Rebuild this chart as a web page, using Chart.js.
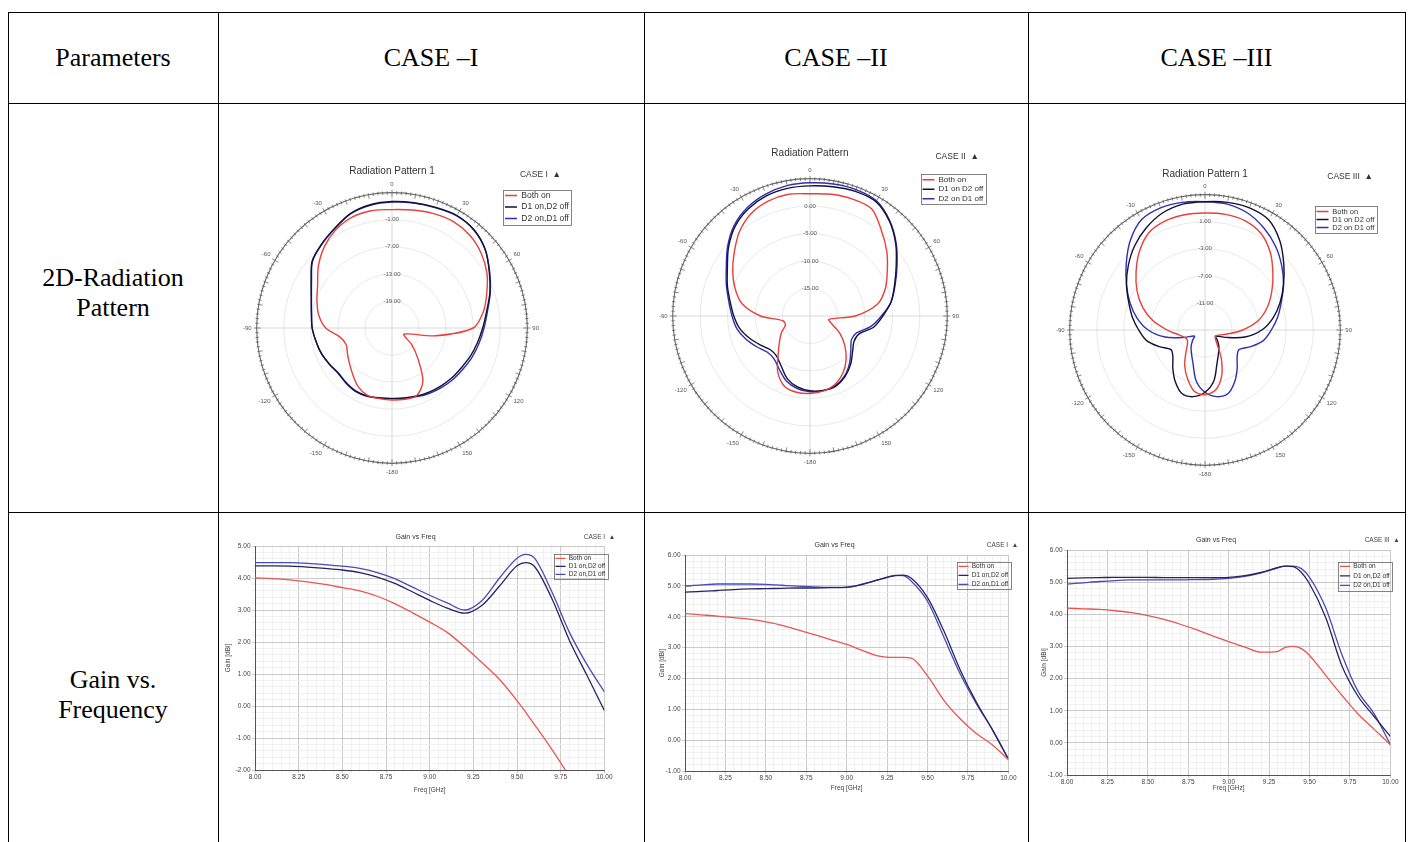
<!DOCTYPE html>
<html><head><meta charset="utf-8"><title>Radiation pattern and gain comparison</title>
<script src="https://cdn.jsdelivr.net/npm/chart.js@4.4.1/dist/chart.umd.min.js"></script>
<style>
html,body{margin:0;padding:0;background:#fff;}
body{width:1413px;height:842px;overflow:hidden;position:relative;font-family:"Liberation Serif","Times New Roman",serif;}
.hl{position:absolute;height:1px;background:#000;}
.vl{position:absolute;width:1px;background:#000;}
.txt{position:absolute;font-size:26px;line-height:30px;color:#000;text-align:center;}
canvas{position:absolute;}
</style></head><body>
<div class="hl" style="left:8px;top:12px;width:1398px"></div>
<div class="hl" style="left:8px;top:103px;width:1398px"></div>
<div class="hl" style="left:8px;top:512px;width:1398px"></div>
<div class="vl" style="left:8px;top:12px;height:830px"></div>
<div class="vl" style="left:218px;top:12px;height:830px"></div>
<div class="vl" style="left:644px;top:12px;height:830px"></div>
<div class="vl" style="left:1028px;top:12px;height:830px"></div>
<div class="vl" style="left:1405px;top:12px;height:830px"></div>
<div class="txt" style="left:8px;top:43px;width:210px">Parameters</div>
<div class="txt" style="left:218px;top:43px;width:426px">CASE –I</div>
<div class="txt" style="left:644px;top:43px;width:384px">CASE –II</div>
<div class="txt" style="left:1028px;top:43px;width:377px">CASE –III</div>
<div class="txt" style="left:8px;top:263px;width:210px">2D-Radiation<br>Pattern</div>
<div class="txt" style="left:8px;top:665px;width:210px">Gain vs.<br>Frequency</div>

<canvas id="p1" width="350" height="324" style="left:235px;top:159px"></canvas>
<canvas id="p2" width="347" height="328" style="left:651px;top:145px"></canvas>
<canvas id="p3" width="344" height="321" style="left:1048px;top:164px"></canvas>
<canvas id="g1" width="392" height="270" style="left:222px;top:528px"></canvas>
<canvas id="g2" width="362" height="260" style="left:656px;top:536px"></canvas>
<canvas id="g3" width="362" height="265" style="left:1038px;top:531px"></canvas>

<script>
// ---------- angle categories (deg) for the polar patterns ----------
const angleLabels = ['0','10','20','30','40','50','60','70','80','90','100','110','120','130','140','150','160','170','-180',
  '-170','-160','-150','-140','-130','-120','-110','-100','-90','-80','-70','-60','-50','-40','-30','-20','-10'];

// ---------- series names ----------
const seriesI = ['Both on', 'D1 on,D2 off', 'D2 on,D1 off'];
const seriesII = ['Both on', 'D1 on D2 off', 'D2 on D1 off'];
const seriesIII = ['Both on', 'D1 on D2 off', 'D2 on D1 off'];
const gainSeries = ['Both on', 'D1 on,D2 off', 'D2 on,D1 off'];

// ---------- radiation pattern values (dB) ----------
const polarI_both = [1.25,1.55,2.0,2.24,1.85,0.8,-0.7,-2.65,-4.45,-7.0,-15.1,-21.2,-22.0,-19.3,-16.0,-11.3,-9.04,-8.95,-9.04,
  -9.1,-9.1,-10.0,-11.5,-12.7,-13.6,-14.2,-13.3,-10.3,-8.5,-7.3,-5.95,-3.7,-1.6,0.05,1.1,1.4];
const polarI_d1 = [3.05,3.2,3.44,3.8,3.35,2.0,-0.1,-1.9,-3.7,-4.9,-5.8,-6.55,-7.3,-7.75,-8.2,-8.6,-8.95,-9.25,-9.35,
  -9.2,-8.9,-8.8,-9.1,-9.4,-8.95,-8.35,-7.9,-7.3,-6.85,-5.95,-4.3,-1.9,-0.7,0.5,2.0,2.75];
const polarI_d2 = [2.9,3.1,3.35,3.7,3.3,2.0,0.0,-1.8,-3.5,-4.6,-5.4,-6.1,-6.8,-7.3,-7.8,-8.3,-8.8,-9.2,-9.4,
  -9.3,-9.0,-8.9,-9.2,-9.5,-9.0,-8.4,-7.9,-7.3,-6.9,-6.0,-4.4,-2.0,-0.8,0.4,1.9,2.6];

const polarII_both = [2.25,2.5,2.65,2.5,0.25,-1.75,-3.75,-5.4,-7.5,-11.75,-16.5,-15.75,-13.75,-11.75,-9.75,-8.0,-6.75,-6.1,-5.9,
  -5.9,-6.4,-8.25,-11.0,-12.75,-14.0,-15.25,-15.0,-11.0,-7.5,-5.5,-3.75,-2.0,0.0,1.5,2.25,2.5];
const polarII_d1 = [3.68,3.88,4.13,4.0,2.5,0.38,-1.88,-3.63,-5.0,-6.75,-8.25,-10.5,-10.75,-9.88,-8.5,-7.25,-6.38,-6.25,-6.38,
  -6.88,-7.88,-9.5,-10.5,-10.5,-9.5,-8.25,-7.0,-6.13,-5.25,-4.0,-2.63,-0.63,1.25,2.5,3.25,3.58];
const polarII_d2 = [4.25,4.4,4.5,4.2,2.6,0.5,-1.7,-3.5,-5.0,-7.0,-8.8,-11.0,-11.3,-10.3,-8.8,-7.4,-6.5,-6.2,-6.2,
  -6.6,-7.4,-8.8,-9.8,-9.8,-8.8,-7.6,-6.5,-5.8,-5.0,-3.8,-2.4,-0.4,1.5,2.8,3.6,4.1];

const polarIII_both = [2.3,2.36,2.2,1.5,0.0,-1.9,-3.6,-5.2,-7.0,-9.4,-11.6,-12.8,-13.2,-13.0,-12.2,-10.2,-7.8,-6.0,-5.44,
  -5.8,-7.4,-9.0,-10.6,-11.6,-12.0,-11.8,-11.0,-9.4,-7.2,-5.2,-3.4,-1.7,0.1,1.6,2.16,2.3];
const polarIII_d1 = [3.96,4.16,4.2,3.8,2.2,0.2,-1.6,-3.2,-4.8,-6.6,-9.0,-11.8,-13.2,-12.6,-11.8,-11.0,-9.8,-7.4,-5.8,
  -5.0,-5.0,-6.2,-7.6,-8.8,-9.2,-7.8,-6.2,-5.2,-4.1,-3.0,-1.6,-0.2,1.2,2.4,3.4,3.9];
const polarIII_d2 = [3.96,3.9,3.4,2.4,1.2,-0.2,-1.6,-3.0,-4.1,-5.2,-6.2,-7.8,-9.2,-8.8,-7.6,-6.2,-5.0,-5.0,-5.8,
  -7.4,-9.8,-11.0,-11.8,-12.6,-13.2,-11.8,-9.0,-6.6,-4.8,-3.2,-1.6,0.2,2.2,3.8,4.2,4.16];

// ---------- gain vs frequency ----------
const freqI = [8.0,8.1,8.2,8.3,8.4,8.5,8.6,8.7,8.8,8.9,9.0,9.1,9.2,9.3,9.4,9.5,9.55,9.6,9.7,9.8,9.9,10.0];
const gainI_both = [4.0,3.98,3.94,3.88,3.8,3.7,3.6,3.43,3.2,2.92,2.62,2.3,1.85,1.35,0.83,0.17,-0.2,-0.58,-1.36,-2.2,-3.1,-4.0];
const gainI_d1 = [4.38,4.38,4.37,4.34,4.3,4.25,4.17,4.03,3.83,3.57,3.3,3.06,2.9,3.15,3.75,4.38,4.48,4.36,3.35,2.05,0.96,-0.14];
const gainI_d2 = [4.48,4.48,4.48,4.46,4.42,4.37,4.3,4.17,3.98,3.72,3.46,3.22,3.0,3.3,4.0,4.62,4.74,4.62,3.56,2.3,1.3,0.44];

const freqII = [8.0,8.1,8.2,8.3,8.4,8.5,8.6,8.7,8.8,8.9,9.0,9.1,9.2,9.3,9.35,9.4,9.5,9.6,9.7,9.8,9.9,10.0];
const gainII_both = [4.1,4.06,4.02,3.97,3.92,3.83,3.72,3.57,3.42,3.26,3.1,2.9,2.72,2.68,2.68,2.66,2.08,1.3,0.7,0.22,-0.15,-0.63];
const gainII_d1 = [4.8,4.82,4.85,4.88,4.9,4.91,4.92,4.93,4.93,4.94,4.95,5.05,5.2,5.33,5.35,5.25,4.62,3.55,2.3,1.25,0.35,-0.62];
const gainII_d2 = [4.99,5.03,5.06,5.06,5.06,5.05,5.02,4.99,4.97,4.95,4.96,5.06,5.2,5.34,5.33,5.15,4.5,3.35,2.17,1.2,0.35,-0.6];

const freqIII = [8.0,8.1,8.2,8.3,8.4,8.5,8.6,8.7,8.8,8.9,9.0,9.1,9.2,9.3,9.35,9.4,9.45,9.5,9.6,9.7,9.8,9.9,10.0];
const gainIII_both = [4.19,4.17,4.15,4.11,4.05,3.96,3.84,3.69,3.52,3.33,3.15,2.98,2.82,2.84,2.97,3.0,2.93,2.72,2.1,1.48,0.9,0.42,-0.06];
const gainIII_d1 = [5.12,5.13,5.14,5.15,5.15,5.15,5.14,5.14,5.14,5.14,5.15,5.2,5.3,5.45,5.5,5.48,5.3,4.95,3.9,2.4,1.45,0.82,0.2];
const gainIII_d2 = [4.94,4.98,5.02,5.05,5.07,5.07,5.07,5.07,5.08,5.09,5.12,5.18,5.29,5.44,5.5,5.5,5.42,5.15,4.2,2.75,1.6,0.9,-0.05];

// ---------- styling ----------
const F = '"Liberation Sans", Arial, Helvetica, sans-serif';
const polarColors = ['#e8403a', '#121236', '#3030b0'];
const gainColors = ['#ea5550', '#26265e', '#4a4ab8'];
Chart.defaults.font.family = F;

// legend placed inside the plot (top-right) with a thin frame round the items
const legendMove = {
  id: 'legendMove',
  afterLayout(chart, args, opts) {
    const lg = chart.legend;
    if (!lg || !opts || opts.x == null) return;
    const w = lg.width, h = lg.height;
    lg.left = opts.x; lg.top = opts.y; lg.right = opts.x + w; lg.bottom = opts.y + h;
  },
  afterDraw(chart) {
    const lg = chart.legend;
    if (!lg || !lg.legendHitBoxes || !lg.legendHitBoxes.length) return;
    let l = Infinity, t = Infinity, r = -Infinity, b = -Infinity;
    lg.legendHitBoxes.forEach(hb => {
      l = Math.min(l, hb.left); t = Math.min(t, hb.top);
      r = Math.max(r, hb.left + hb.width); b = Math.max(b, hb.top + hb.height);
    });
    const ctx = chart.ctx;
    ctx.save();
    ctx.strokeStyle = '#666'; ctx.lineWidth = 0.8;
    ctx.strokeRect(Math.round(l - 2) + 0.5, Math.round(t - 1.5) + 0.5, Math.round(r - l + 4), Math.round(b - t + 3));
    ctx.restore();
  }
};

// small degree marks round the outer ring of the polar scale
const polarRim = {
  id: 'polarRim',
  beforeDatasetsDraw(chart) {
    const s = chart.scales.r;
    if (!s) return;
    const ctx = chart.ctx, R = s.drawingArea;
    ctx.save();
    ctx.strokeStyle = '#555'; ctx.lineWidth = 0.7;
    for (let d = 0; d < 360; d += 2) {
      const a = d * Math.PI / 180 - Math.PI / 2;
      const inner = d % 10 === 0 ? 4 : 2, outer = d % 30 === 0 ? 3 : 1.5;
      ctx.beginPath();
      ctx.moveTo(s.xCenter + Math.cos(a) * (R - inner), s.yCenter + Math.sin(a) * (R - inner));
      ctx.lineTo(s.xCenter + Math.cos(a) * (R + outer), s.yCenter + Math.sin(a) * (R + outer));
      ctx.stroke();
    }
    ctx.restore();
  }
};

function makePolar(id, p) {
  const isMax = v => Math.abs(v - p.max) < 1e-9;
  const isEnd = v => isMax(v) || Math.abs(v - p.min) < 1e-9;
  return new Chart(document.getElementById(id), {
    type: 'radar',
    data: {
      labels: angleLabels,
      datasets: p.series.map((name, k) => ({
        label: name, data: p.values[k], borderColor: polarColors[k], backgroundColor: polarColors[k],
        borderWidth: 1.4, pointRadius: 0, pointHitRadius: 0, fill: false, tension: 0.3
      }))
    },
    options: {
      responsive: false, animation: false, devicePixelRatio: 1,
      layout: { padding: p.pad },
      plugins: {
        title: { display: true, text: p.title, color: '#333', font: { family: F, size: 10, weight: 'normal' }, padding: p.titlePad },
        legend: {
          position: 'chartArea', align: 'start',
          labels: { color: '#333', font: { family: F, size: p.legFont }, usePointStyle: true, pointStyle: 'line', pointStyleWidth: 12, padding: p.legPad },
          title: { display: true, text: p.caseText, color: '#333', position: 'center', font: { family: F, size: 8.5 }, padding: { top: 0, bottom: p.legTitleGap } }
        },
        legendMove: { x: p.legX, y: p.legY },
        tooltip: { enabled: false }
      },
      scales: {
        r: {
          min: p.min, max: p.max, startAngle: 0,
          grid: { circular: true, color: c => (c.tick && isMax(c.tick.value)) ? '#666' : '#e2e2e2', lineWidth: c => (c.tick && isMax(c.tick.value)) ? 1.1 : 0.8 },
          angleLines: { display: true, color: c => (c.index % 9 === 0 ? '#cfcfcf' : ''), lineWidth: 0.8 },
          pointLabels: { display: true, padding: 2, color: '#555', font: { family: F, size: 6 }, callback: (l, i) => (i % 3 === 0 ? l : '') },
          ticks: { stepSize: p.step, maxTicksLimit: 20, showLabelBackdrop: false, backdropPadding: 0, color: '#555', font: { family: F, size: 6 },
            callback: v => (isEnd(v) ? '' : v.toFixed(2)) }
        }
      }
    },
    plugins: [legendMove, polarRim]
  });
}

function makeGain(id, g) {
  const isMajor = (v, s) => Math.abs(v / s - Math.round(v / s)) < 1e-6;
  return new Chart(document.getElementById(id), {
    type: 'line',
    data: {
      datasets: g.series.map((name, k) => ({
        label: name, data: g.freq.map((f, i) => ({ x: f, y: g.values[k][i] })),
        borderColor: gainColors[k], backgroundColor: gainColors[k], borderWidth: 1.3,
        pointRadius: 0, pointHitRadius: 0, fill: false, cubicInterpolationMode: 'monotone'
      }))
    },
    options: {
      responsive: false, animation: false, devicePixelRatio: 1,
      layout: { padding: g.pad },
      plugins: {
        title: { display: true, text: 'Gain vs Freq', color: '#333', font: { family: F, size: 7, weight: 'normal' }, padding: { top: 4.8, bottom: g.titleGap } },
        legend: {
          position: 'chartArea', align: 'start',
          labels: { color: '#333', font: { family: F, size: 6.5 }, usePointStyle: true, pointStyle: 'line', pointStyleWidth: 10, padding: g.legPad },
          title: { display: true, text: g.caseText, color: '#444', position: 'end', font: { family: F, size: 6.5 }, padding: { top: 0, bottom: g.legTitleGap } }
        },
        legendMove: { x: g.legX, y: g.legY },
        tooltip: { enabled: false }
      },
      scales: {
        x: {
          type: 'linear', min: 8, max: 10,
          afterFit: s => { s.height = g.xh; },
          border: { color: '#555' },
          ticks: { stepSize: 0.05, maxTicksLimit: 100, autoSkip: false, maxRotation: 0, minRotation: 0, padding: 1.5, color: '#444',
            font: { family: F, size: 6.5, lineHeight: 0.8 }, callback: v => (isMajor(v, 0.25) ? v.toFixed(2) : '') },
          grid: { color: c => (c.tick && isMajor(c.tick.value, 0.25)) ? '#bdbdbd' : '#ededed', tickLength: 3, lineWidth: 0.8 },
          title: { display: true, text: 'Freq [GHz]', color: '#444', font: { family: F, size: 6.5 }, padding: { top: 0, bottom: 0 } }
        },
        y: {
          min: g.ymin, max: g.ymax,
          afterFit: s => { s.width = g.yw; },
          border: { color: '#555' },
          ticks: { stepSize: 0.2, maxTicksLimit: 100, autoSkip: false, padding: 1.5, color: '#444',
            font: { family: F, size: 6.5, lineHeight: 0.8 }, callback: v => (isMajor(v, 1) ? v.toFixed(2) : '') },
          grid: { color: c => (c.tick && isMajor(c.tick.value, 1)) ? '#bdbdbd' : '#ededed', tickLength: 3, lineWidth: 0.8 },
          title: { display: true, text: 'Gain [dBi]', color: '#444', font: { family: F, size: 6.5 }, padding: { top: 0, bottom: 0 } }
        }
      }
    },
    plugins: [legendMove]
  });
}

makePolar('p1', { title: 'Radiation Pattern 1', caseText: 'CASE I  \u25B2', series: seriesI,
  values: [polarI_both, polarI_d1, polarI_d2], min: -25, max: 5, step: 6,
  pad: { left: 8, right: 44, top: 0, bottom: 6 }, titlePad: { top: 6, bottom: 2 },
  legFont: 8.5, legPad: 3, legTitleGap: 8, legX: 267, legY: 11 });
makePolar('p2', { title: 'Radiation Pattern', caseText: 'CASE II  \u25B2', series: seriesII,
  values: [polarII_both, polarII_d1, polarII_d2], min: -20, max: 5, step: 5,
  pad: { left: 8, right: 37, top: 0, bottom: 6 }, titlePad: { top: 2, bottom: 6 },
  legFont: 8, legPad: 1.5, legTitleGap: 12, legX: 270, legY: 7 });
makePolar('p3', { title: 'Radiation Pattern 1', caseText: 'CASE III  \u25B2', series: seriesIII,
  values: [polarIII_both, polarIII_d1, polarIII_d2], min: -15, max: 5, step: 4,
  pad: { left: 8, right: 38, top: 0, bottom: 6 }, titlePad: { top: 4, bottom: 1 },
  legFont: 7.5, legPad: 0.5, legTitleGap: 25, legX: 268, legY: 8 });

makeGain('g1', { caseText: 'CASE I  \u25B2', series: gainSeries, freq: freqI, values: [gainI_both, gainI_d1, gainI_d2],
  ymin: -2, ymax: 5, pad: { left: 2, right: 7, top: 0, bottom: 4 }, titleGap: 4.8, xh: 24, yw: 31,
  legPad: 1.5, legTitleGap: 12, legX: 332, legY: 5.75 });
makeGain('g2', { caseText: 'CASE I  \u25B2', series: gainSeries, freq: freqII, values: [gainII_both, gainII_d1, gainII_d2],
  ymin: -1, ymax: 6, pad: { left: 2, right: 7, top: 0, bottom: 4 }, titleGap: 5.8, xh: 21, yw: 27,
  legPad: 2.5, legTitleGap: 11, legX: 300, legY: 5.75 });
makeGain('g3', { caseText: 'CASE III  \u25B2', series: gainSeries, freq: freqIII, values: [gainIII_both, gainIII_d1, gainIII_d2],
  ymin: -1, ymax: 6, pad: { left: 2, right: 8, top: 0, bottom: 4 }, titleGap: 5.8, xh: 17, yw: 27,
  legPad: 3, legTitleGap: 15.5, legX: 299, legY: 5.75 });
</script>
</body></html>
